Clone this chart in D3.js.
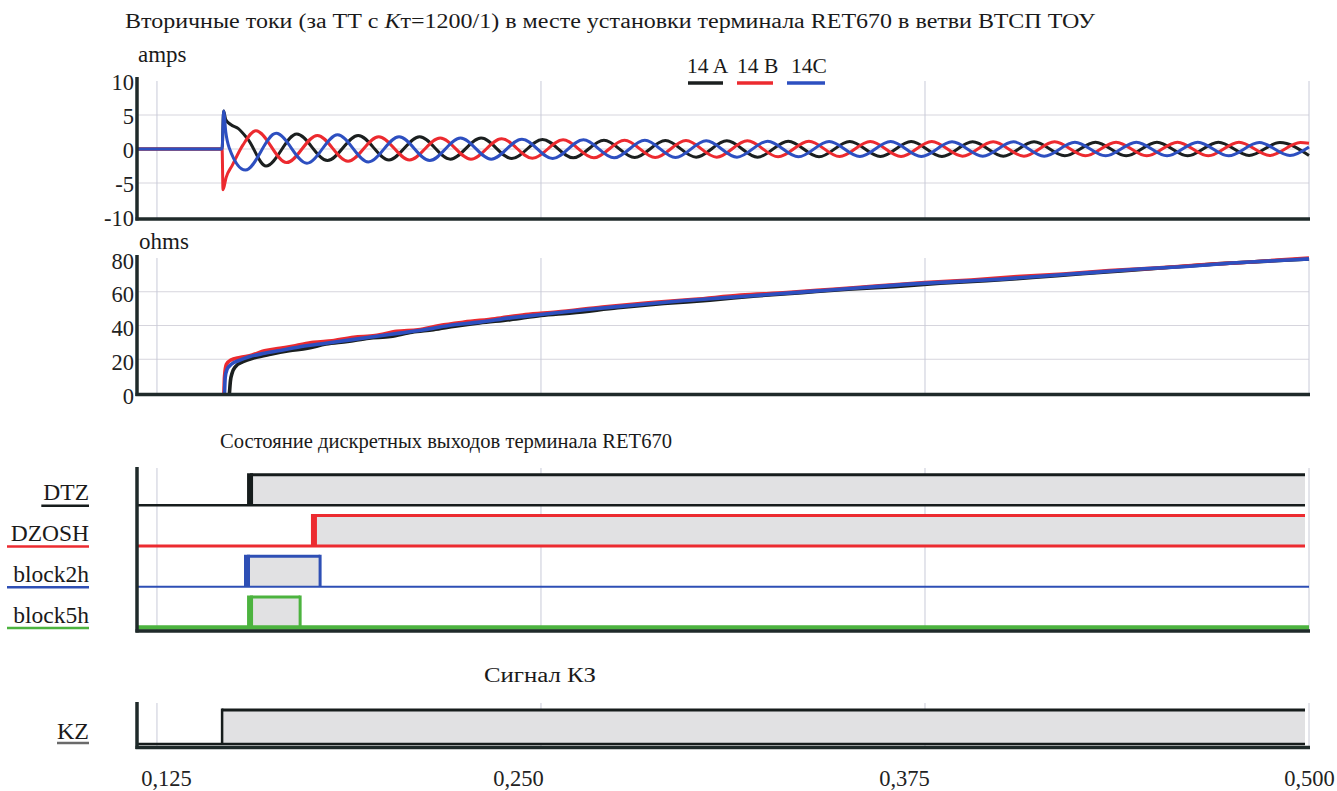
<!DOCTYPE html>
<html><head><meta charset="utf-8">
<script src="https://cdn.jsdelivr.net/npm/d3@7/dist/d3.min.js"></script>
<style>
body{margin:0;background:#fff;}
svg{display:block;font-family:"Liberation Serif","Times New Roman",serif;}
</style></head><body>
<svg id="c" width="1337" height="791"></svg>
<script>
// ---------------- DATA ----------------
const xTicks = [0.125, 0.25, 0.375, 0.5];
const xTickLabels = ["0,125", "0,250", "0,375", "0,500"];
const ampTicks = [10, 5, 0, -5, -10];
const ohmTicks = [80, 60, 40, 20, 0];
const phaseNames = ["14 A", "14 B", "14C"];
const phaseColors = ["#1b1f1f", "#ec2a2f", "#2d4fc0"];

// secondary currents, amps: [time s, value]
const ampsA = [[0.1185,0],[0.1462,0],[0.1467,5.6],[0.1474,4.3],[0.1490,3.6],[0.1515,3.0],[0.1545,1.5],[0.1605,-2.5],[0.1705,2.2],[0.1805,-1.7],[0.1905,2.0],[0.2005,-1.6],[0.2105,1.8],[0.2205,-1.5],[0.2305,1.6],[0.2405,-1.4],[0.2505,1.4],[0.2605,-1.3],[0.2705,1.3],[0.2805,-1.25],[0.2905,1.25],[0.3005,-1.2],[0.3105,1.2],[0.3205,-1.2],[0.3305,1.15],[0.3405,-1.15],[0.3505,1.1],[0.3605,-1.1],[0.3705,1.1],[0.3805,-1.1],[0.3905,1.05],[0.4005,-1.05],[0.4105,1.05],[0.4205,-1.0],[0.4305,1.0],[0.4405,-1.0],[0.4505,1.0],[0.4605,-1.0],[0.4705,1.0],[0.4805,-0.95],[0.4905,0.95],[0.5,-0.95]];
const ampsB = [[0.1185,0],[0.1462,0],[0.1465,-6.0],[0.1475,-4.2],[0.1495,-2.4],[0.1530,0.6],[0.1572,2.7],[0.1672,-2.0],[0.1772,2.0],[0.1872,-1.8],[0.1972,1.8],[0.2072,-1.6],[0.2172,1.6],[0.2272,-1.5],[0.2372,1.5],[0.2472,-1.35],[0.2572,1.35],[0.2672,-1.3],[0.2772,1.3],[0.2872,-1.25],[0.2972,1.25],[0.3072,-1.2],[0.3172,1.2],[0.3272,-1.15],[0.3372,1.15],[0.3472,-1.1],[0.3572,1.1],[0.3672,-1.1],[0.3772,1.1],[0.3872,-1.05],[0.3972,1.05],[0.4072,-1.05],[0.4172,1.05],[0.4272,-1.0],[0.4372,1.0],[0.4472,-1.0],[0.4572,1.0],[0.4672,-1.0],[0.4772,1.0],[0.4872,-0.95],[0.4972,0.95],[0.5,0.85]];
const ampsC = [[0.1185,0],[0.1462,0],[0.1467,5.6],[0.1474,2.5],[0.1485,0.2],[0.1538,-3.1],[0.1638,2.3],[0.1738,-2.1],[0.1838,2.1],[0.1938,-1.9],[0.2038,1.8],[0.2138,-1.7],[0.2238,1.6],[0.2338,-1.5],[0.2438,1.45],[0.2538,-1.4],[0.2638,1.35],[0.2738,-1.3],[0.2838,1.3],[0.2938,-1.25],[0.3038,1.2],[0.3138,-1.2],[0.3238,1.15],[0.3338,-1.15],[0.3438,1.1],[0.3538,-1.1],[0.3638,1.1],[0.3738,-1.1],[0.3838,1.05],[0.3938,-1.05],[0.4038,1.05],[0.4138,-1.05],[0.4238,1.0],[0.4338,-1.0],[0.4438,1.0],[0.4538,-1.0],[0.4638,1.0],[0.4738,-1.0],[0.4838,0.95],[0.4938,-0.95],[0.5,0.3]];

// impedance, ohms: [time s, value]
const ohmsA = [[0.1486,0],[0.1489,7],[0.1495,12],[0.1505,15.5],[0.1530,18.5],[0.1570,21],[0.1620,23],[0.1680,25],[0.1740,26.5],[0.1800,29],[0.1870,30.5],[0.1940,32.5],[0.2010,33.5],[0.2080,36],[0.2150,37.5],[0.2220,39.5],[0.2300,41.5],[0.2400,43.5],[0.2500,46],[0.2600,47.5],[0.2750,50.5],[0.2900,53],[0.3050,55],[0.3200,57.5],[0.3350,59.5],[0.3500,61.5],[0.3650,63],[0.3800,65],[0.3950,66.5],[0.4100,68.5],[0.4250,70.5],[0.4400,72.5],[0.4550,74.5],[0.4700,76.5],[0.4850,78],[0.5000,79.5]];
const ohmsB = [[0.1468,0],[0.1470,10],[0.1476,17],[0.1490,19.5],[0.1520,21],[0.1560,22.5],[0.1600,25],[0.1650,26.5],[0.1700,28],[0.1760,30],[0.1820,31],[0.1890,33],[0.1960,34],[0.2030,36.5],[0.2100,37.5],[0.2170,40],[0.2250,42],[0.2350,44],[0.2450,46.5],[0.2550,48],[0.2700,51],[0.2850,53.5],[0.3000,55.5],[0.3150,58],[0.3300,59.5],[0.3450,61.5],[0.3600,63.5],[0.3750,65.5],[0.3900,67],[0.4050,69],[0.4200,70.5],[0.4350,72.5],[0.4500,74],[0.4650,76],[0.4800,77.5],[0.5000,80]];
const ohmsC = [[0.1470,0],[0.1472,9],[0.1478,14],[0.1492,17],[0.1520,19.5],[0.1550,21.5],[0.1600,23.5],[0.1660,25.5],[0.1720,27.5],[0.1800,29.5],[0.1880,31.5],[0.1960,33.5],[0.2040,35.5],[0.2120,37.5],[0.2200,40],[0.2300,42],[0.2400,44.5],[0.2500,46.5],[0.2650,49.5],[0.2800,52],[0.2950,54.5],[0.3100,56.5],[0.3250,58.5],[0.3400,60.5],[0.3550,62.5],[0.3700,64.5],[0.3850,66],[0.4000,67.5],[0.4150,69.5],[0.4300,71.5],[0.4450,73.5],[0.4600,75],[0.4750,77],[0.4900,78.5],[0.5000,79.5]];

// discrete outputs
const digitalNames = ["DTZ", "DZOSH", "block2h", "block5h"];
const digitalColors = ["#161c1c", "#ec2b30", "#2e4fb5", "#4cb33f"];
const digitalOn  = [0.1553, 0.1761, 0.1543, 0.1553];
const digitalOff = [0.4987, 0.4987, 0.1781, 0.1716];
const digitalLowEnd = [0.4987, 0.4987, 0.5, 0.5];
const kzName = "KZ";
const kzOn = 0.1462, kzOff = 0.4987;

// ---------------- DRAW ----------------
const svg = d3.select("#c");
const x = d3.scaleLinear().domain([0.1185, 0.5]).range([137, 1309]);
const yA = d3.scaleLinear().domain([-10, 10]).range([217, 81]);
const yO = d3.scaleLinear().domain([0, 80]).range([393, 258]);
const AX = "#1f2a2a", GRID_V = "#c8cad8", GRID_H = "#d6d5dd", FILL = "#e1e1e3";

// titles
const t1 = svg.append("text").attr("x", 125).attr("y", 28).attr("font-size", 20).attr("fill", "#1a1a1a")
  .attr("textLength", 970).attr("lengthAdjust", "spacingAndGlyphs");
t1.append("tspan").text("Вторичные токи (за ТТ с ");
t1.append("tspan").attr("font-style", "italic").text("K");
t1.append("tspan").text("т=1200/1) в месте установки терминала RET670 в ветви ВТСП ТОУ");
svg.append("text").attr("x", 220).attr("y", 448).attr("font-size", 20).attr("fill", "#1a1a1a")
  .attr("textLength", 452).attr("lengthAdjust", "spacingAndGlyphs")
  .text("Состояние дискретных выходов терминала RET670");
svg.append("text").attr("x", 484).attr("y", 682).attr("font-size", 20).attr("fill", "#1a1a1a")
  .attr("textLength", 112).attr("lengthAdjust", "spacingAndGlyphs").text("Сигнал КЗ");

function vGrid(y0, y1) {
  svg.append("g").selectAll("line").data(xTicks).join("line")
    .attr("x1", d => x(d)).attr("x2", d => x(d)).attr("y1", y0).attr("y2", y1)
    .attr("stroke", GRID_V).attr("stroke-width", 1);
}
function hGrid(scale, vals) {
  svg.append("g").selectAll("line").data(vals).join("line")
    .attr("x1", x.range()[0]).attr("x2", x.range()[1]).attr("y1", d => scale(d)).attr("y2", d => scale(d))
    .attr("stroke", GRID_H).attr("stroke-width", 1);
}
function frame(yTop, yBottom, yAxis) {
  svg.append("line").attr("x1", 137).attr("x2", 137).attr("y1", yTop).attr("y2", yBottom + 1.5)
    .attr("stroke", AX).attr("stroke-width", 3.5);
  svg.append("line").attr("x1", 135.5).attr("x2", x(0.5) + 1).attr("y1", yAxis).attr("y2", yAxis)
    .attr("stroke", AX).attr("stroke-width", 3.5);
}
function yLabels(scale, vals, shift) {
  const g = svg.append("g").attr("transform", `translate(137,${shift})`)
    .call(d3.axisLeft(scale).tickValues(vals).tickSize(0).tickPadding(3)
      .tickFormat(d => d < 0 ? "-" + Math.abs(d) : String(d)));
  g.select(".domain").remove();
  g.selectAll("text").attr("font-family", "Liberation Serif, serif").attr("font-size", 22.5).attr("fill", "#222");
}

// ---- amps panel
hGrid(yA, [5, 0, -5]);
vGrid(81, 218);
svg.append("text").attr("x", 138).attr("y", 62).attr("font-size", 23).attr("fill", "#1a1a1a").text("amps");
yLabels(yA, ampTicks, 1);
const lineA = d3.line().x(d => x(d[0])).y(d => yA(d[1])).curve(d3.curveMonotoneX);
[ampsA, ampsB, ampsC].forEach((s, i) => {
  svg.append("path").datum(s).attr("d", lineA).attr("fill", "none")
    .attr("stroke", phaseColors[i]).attr("stroke-width", 3).attr("stroke-linejoin", "round");
});
frame(77, 219, 219);

// legend
const legX = [687, 737, 791];
const legLine = [[688, 723], [737, 773], [787, 825]];
phaseNames.forEach((n, i) => {
  svg.append("text").attr("x", legX[i]).attr("y", 73).attr("font-size", 21.5).attr("fill", "#1a1a1a").text(n);
  svg.append("line").attr("x1", legLine[i][0]).attr("x2", legLine[i][1]).attr("y1", 83).attr("y2", 83)
    .attr("stroke", phaseColors[i]).attr("stroke-width", 3.5);
});

// ---- ohms panel
hGrid(yO, [60, 40, 20]);
vGrid(258, 394);
svg.append("text").attr("x", 139).attr("y", 249).attr("font-size", 23).attr("fill", "#1a1a1a").text("ohms");
yLabels(yO, ohmTicks, 3);
const lineO = d3.line().x(d => x(d[0])).y(d => yO(d[1])).curve(d3.curveMonotoneX);
[ohmsA, ohmsB, ohmsC].forEach((s, i) => {
  svg.append("path").datum(s).attr("d", lineO).attr("fill", "none")
    .attr("stroke", phaseColors[i]).attr("stroke-width", 3.6).attr("stroke-linejoin", "round");
});
frame(255, 394.5, 394.5);

// ---- digital panel
const rowBand = d3.scaleBand().domain(digitalNames).range([466, 629]);
vGrid(468, 630);
svg.append("line").attr("x1", x(0.5)).attr("x2", x(0.5)).attr("y1", 468).attr("y2", 630)
  .attr("stroke", "#e4e4ea").attr("stroke-width", 1);
const lowW = [2.5, 3, 2, 4.5], highW = [3, 3, 3, 3];
digitalNames.forEach((n, i) => {
  const low = rowBand(n) + rowBand.bandwidth() - 1.5;
  const lvl = d3.scaleLinear().domain([0, 1]).range([low, low - 30.5]);
  const c = digitalColors[i];
  svg.append("rect").attr("x", x(digitalOn[i])).attr("y", lvl(1))
    .attr("width", x(digitalOff[i]) - x(digitalOn[i])).attr("height", lvl(0) - lvl(1)).attr("fill", FILL);
  svg.append("line").attr("x1", x(0.1185)).attr("x2", x(digitalLowEnd[i])).attr("y1", lvl(0)).attr("y2", lvl(0))
    .attr("stroke", c).attr("stroke-width", lowW[i]);
  svg.append("line").attr("x1", x(digitalOn[i])).attr("x2", x(digitalOff[i])).attr("y1", lvl(1)).attr("y2", lvl(1))
    .attr("stroke", c).attr("stroke-width", highW[i]);
  svg.append("line").attr("x1", x(digitalOn[i])).attr("x2", x(digitalOn[i])).attr("y1", lvl(0)).attr("y2", lvl(1) - 1.5)
    .attr("stroke", c).attr("stroke-width", 6);
  if (digitalOff[i] < 0.49) {
    svg.append("line").attr("x1", x(digitalOff[i])).attr("x2", x(digitalOff[i])).attr("y1", lvl(0)).attr("y2", lvl(1) - 1.5)
      .attr("stroke", c).attr("stroke-width", 3);
  }
  const t = svg.append("text").attr("x", 89).attr("y", low - 5).attr("text-anchor", "end")
    .attr("font-size", 23.5).attr("fill", "#1a1a1a").text(n);
  const bb = t.node().getBBox();
  svg.append("line").attr("x1", Math.min(bb.x - 2, i === 0 ? bb.x - 1 : 7)).attr("x2", 89).attr("y1", low + 0.5).attr("y2", low + 0.5)
    .attr("stroke", c).attr("stroke-width", 2.5);
});
frame(467, 631, 631);

// ---- KZ panel
vGrid(703, 746);
svg.append("line").attr("x1", x(0.5)).attr("x2", x(0.5)).attr("y1", 703).attr("y2", 746)
  .attr("stroke", "#e4e4ea").attr("stroke-width", 1);
const kzLvl = d3.scaleLinear().domain([0, 1]).range([744, 710]);
svg.append("rect").attr("x", x(kzOn)).attr("y", kzLvl(1)).attr("width", x(kzOff) - x(kzOn))
  .attr("height", kzLvl(0) - kzLvl(1)).attr("fill", FILL);
svg.append("line").attr("x1", x(0.1185)).attr("x2", x(kzOff)).attr("y1", kzLvl(0)).attr("y2", kzLvl(0))
  .attr("stroke", "#161c1c").attr("stroke-width", 2.5);
svg.append("line").attr("x1", x(kzOn)).attr("x2", x(kzOff)).attr("y1", kzLvl(1)).attr("y2", kzLvl(1))
  .attr("stroke", "#161c1c").attr("stroke-width", 3);
svg.append("line").attr("x1", x(kzOn)).attr("x2", x(kzOn)).attr("y1", kzLvl(0)).attr("y2", kzLvl(1) - 1.5)
  .attr("stroke", "#161c1c").attr("stroke-width", 2.5);
const kzT = svg.append("text").attr("x", 89).attr("y", 739).attr("text-anchor", "end")
  .attr("font-size", 24).attr("fill", "#1a1a1a").text(kzName);
const kbb = kzT.node().getBBox();
svg.append("line").attr("x1", kbb.x).attr("x2", 89).attr("y1", 743).attr("y2", 743)
  .attr("stroke", "#6a6a6a").attr("stroke-width", 2.5);
frame(702, 747.5, 747.5);

// ---- x axis labels
const xLabelShift = [9, -23, -21, 0];
const gx = svg.append("g").attr("transform", "translate(0,770)")
  .call(d3.axisBottom(x).tickValues(xTicks).tickSize(0).tickPadding(0).tickFormat((d, i) => xTickLabels[i]));
gx.select(".domain").remove();
gx.selectAll("text").attr("font-family", "Liberation Serif, serif").attr("font-size", 22.5).attr("fill", "#222")
  .attr("dx", (d, i) => xLabelShift[i]);
</script>
</body></html>
